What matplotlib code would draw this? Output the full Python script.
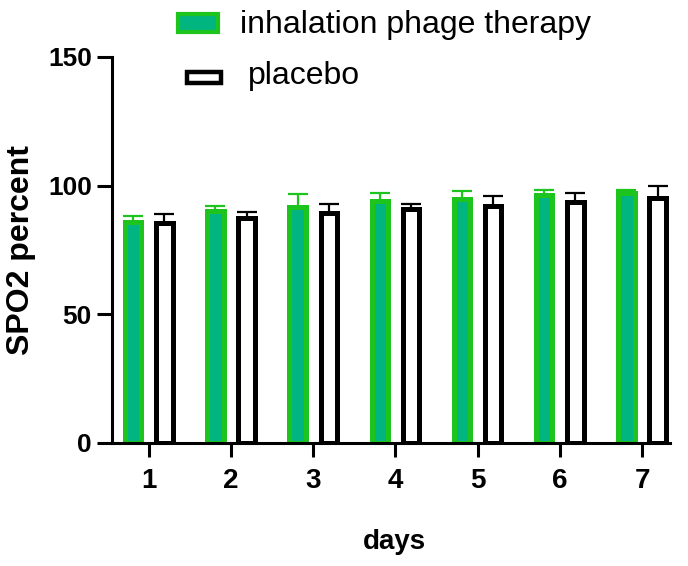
import matplotlib
matplotlib.use("Agg")
import matplotlib.pyplot as plt
import numpy as np
from matplotlib.patches import Rectangle

plt.rcParams['font.family'] = ['Liberation Sans', 'DejaVu Sans']

days = [1, 2, 3, 4, 5, 6, 7]
day_labels = ['1', '2', '3', '4', '5', '6', '7']
phage_mean = [86.0, 90.3, 91.8, 93.9, 94.8, 96.5, 97.0]
phage_err = [2.2, 1.9, 4.8, 3.3, 3.3, 1.9, 1.3]
placebo_mean = [85.4, 87.4, 89.5, 91.1, 92.1, 93.7, 95.2]
placebo_err = [3.5, 2.3, 3.5, 1.8, 3.8, 3.3, 4.6]
series_names = ['inhalation phage therapy', 'placebo']

green_edge = '#1dc41d'
green_fill = '#00b57f'

W, H = 688, 566
fig = plt.figure(figsize=(W / 100, H / 100), dpi=100)
ax = fig.add_axes([112 / W, 1 - 443 / H, 558 / W, 386 / H])

x = np.array(days, dtype=float)
w = 0.2
off = 0.19
ax.bar(x - off, phage_mean, width=w, color=green_fill, edgecolor=green_edge,
       linewidth=3.6, zorder=2)
ax.errorbar(x - off, phage_mean, yerr=[np.zeros(len(days)), phage_err], fmt='none',
            ecolor=green_edge, elinewidth=1.6, capsize=7, capthick=1.6, zorder=1)
ax.bar(x + off, placebo_mean, width=w, color='white', edgecolor='black',
       linewidth=3.6, zorder=2)
ax.errorbar(x + off, placebo_mean, yerr=[np.zeros(len(days)), placebo_err], fmt='none',
            ecolor='black', elinewidth=1.6, capsize=7, capthick=1.6, zorder=1)

ax.set_xlim(0.553, 7.34)
ax.set_ylim(0, 150)
ax.set_yticks([0, 50, 100, 150])
ax.set_xticks(days)
ax.set_xticklabels(day_labels)
for s in ['top', 'right']:
    ax.spines[s].set_visible(False)
for s in ['left', 'bottom']:
    ax.spines[s].set_linewidth(2.2)
ax.tick_params(axis='y', width=2.2, length=11, labelsize=19, pad=3.5)
ax.tick_params(axis='x', width=2.2, length=10, labelsize=20, pad=8)
for lab in ax.get_xticklabels() + ax.get_yticklabels():
    lab.set_fontweight('bold')

ax.set_ylabel('SPO2 percent', fontsize=23, fontweight='bold', va='center')
ax.yaxis.set_label_coords(-0.163, 0.5)
ax.set_xlabel('days', fontsize=20, fontweight='bold', va='baseline')
ax.xaxis.set_label_coords(0.507, -0.2746)

# legend (keys and labels)
def fx(px):
    return px / W

def fy(py):
    return 1 - py / H

fig.patches.append(Rectangle((fx(178), fy(32)), fx(218) - fx(178), fy(14) - fy(32),
                             transform=fig.transFigure, facecolor=green_fill,
                             edgecolor=green_edge, linewidth=3.0))
fig.patches.append(Rectangle((fx(187), fy(83)), fx(221) - fx(187), fy(72) - fy(83),
                             transform=fig.transFigure, facecolor='white',
                             edgecolor='black', linewidth=3.2))
fig.text(fx(240), fy(33), series_names[0], fontsize=23, va='baseline', ha='left')
fig.text(fx(248), fy(84), series_names[1], fontsize=23, va='baseline', ha='left')

fig.savefig('out.png', dpi=100)
